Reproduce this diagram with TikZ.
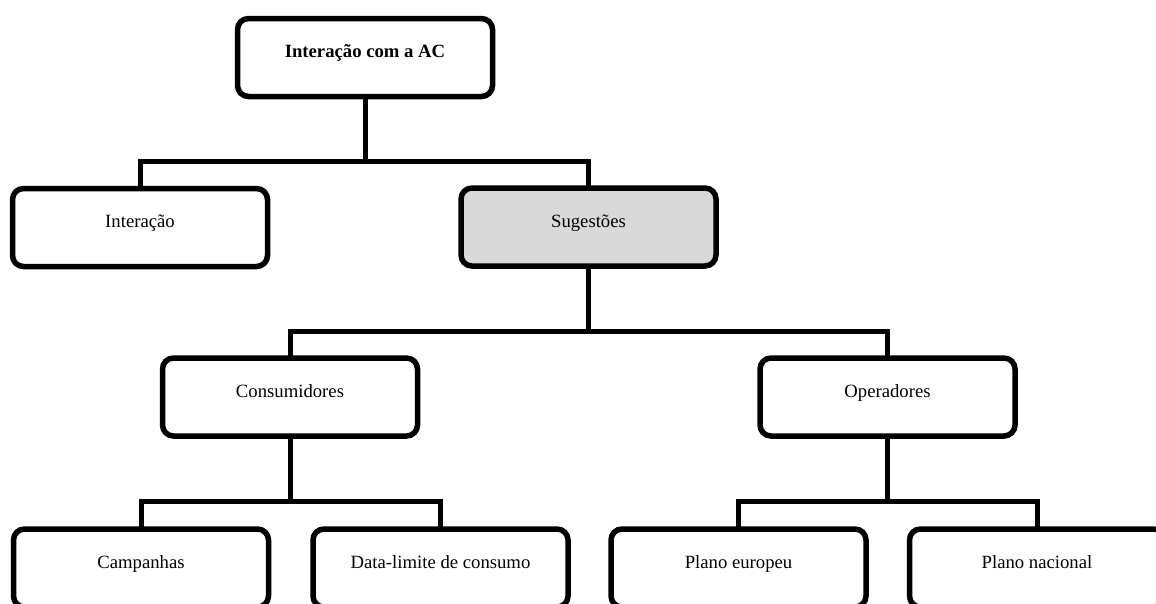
\documentclass[tikz,border=0pt]{standalone}
\usepackage{fontspec}
\setmainfont{Liberation Serif}
\begin{document}
\begin{tikzpicture}[x=1pt,y=-1pt,
  box/.style={draw=black, line width=5.5pt, rounded corners=11pt, fill=white,
    minimum width=255pt, minimum height=78pt, inner sep=0pt, outer sep=0pt,
    font=\fontsize{18.7}{22}\selectfont, text height=12pt, text depth=12pt},
  hilite/.style={fill=boxgray},
  link/.style={draw=black, line width=5pt}]
\definecolor{boxgray}{HTML}{D9D9D9}
\clip (0,0) rectangle (1156,603);
\fill[white] (0,0) rectangle (1156,603);

% boxes
\node[box] (top)  at (365,57.5)  {\textbf{Interação com a AC}};
\node[box] (int)  at (140,227.5) {Interação};
\node[box,hilite] (sug) at (588.5,227) {Sugestões};
\node[box] (cons) at (290,397)   {Consumidores};
\node[box] (oper) at (887.5,397) {Operadores};
\node[box] (camp) at (141,568)   {Campanhas};
\node[box] (data) at (440.5,568) {Data-limite de consumo};
\node[box] (eu)   at (738.5,568) {Plano europeu};
\node[box] (nac)  at (1037,568)  {Plano nacional};

% branch points
\coordinate (j1) at (365,161);
\coordinate (j2) at (588.5,331);
\coordinate (j3) at (290,501);
\coordinate (j4) at (887.5,501);

% connectors
\draw[link] (top.south) -- (j1);
\draw[link] (int.north) |- (j1) -| (sug.north);
\draw[link] (sug.south) -- (j2);
\draw[link] (cons.north) |- (j2) -| (oper.north);
\draw[link] (cons.south) -- (j3);
\draw[link] (camp.north) |- (j3) -| (data.north);
\draw[link] (oper.south) -- (j4);
\draw[link] (eu.north) |- (j4) -| (nac.north);
\end{tikzpicture}
\end{document}
